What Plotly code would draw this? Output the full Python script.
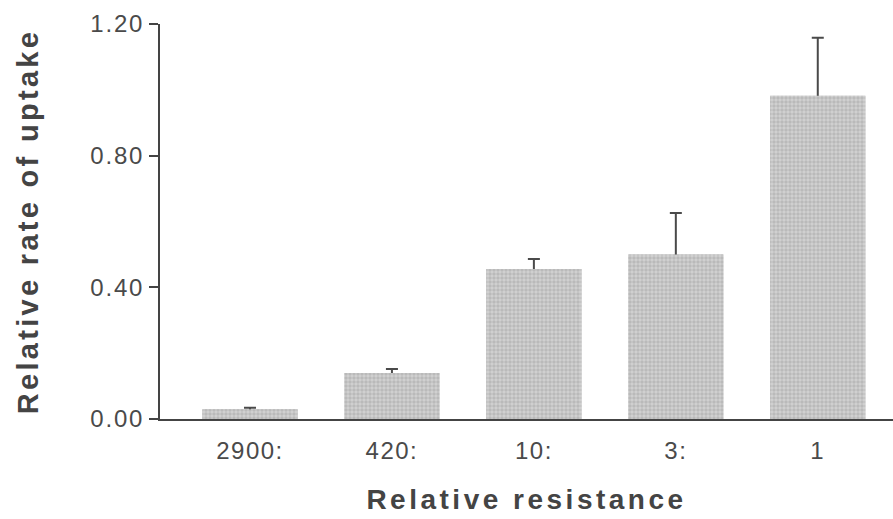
import plotly.graph_objects as go

categories = ["2900:", "420:", "10:", "3:", "1"]
uptake = [0.030, 0.140, 0.456, 0.500, 0.982]
error_up = [0.004, 0.012, 0.030, 0.126, 0.176]
y_ticks = [0.0, 0.4, 0.8, 1.2]
y_ticklabels = ["0.00", "0.40", "0.80", "1.20"]

axis_color = "#444444"
text_color = "#4a4a4a"
font_family = "Liberation Sans, Arial, Helvetica, sans-serif"


def spaced(txt, px):
    return f'<span style="letter-spacing:{px}px">{txt}</span>'


bar_marker = dict(
    color="#cccccc",
    line=dict(width=0),
    pattern=dict(shape=".", fgcolor="#a2a2a2", bgcolor="#d2d2d2", size=4, solidity=0.6),
)

fig = go.Figure()
# bars carrying the (upper) error bars
fig.add_trace(go.Bar(
    x=categories,
    y=uptake,
    marker=bar_marker,
    error_y=dict(
        type="data",
        symmetric=False,
        array=error_up,
        arrayminus=[0.006] * len(error_up),
        color="#4a4a4a",
        thickness=2,
        width=6,
    ),
    showlegend=False,
    hoverinfo="skip",
))
# same bars drawn on top so that only the upper whisker shows
fig.add_trace(go.Bar(
    x=categories,
    y=uptake,
    marker=bar_marker,
    showlegend=False,
))

fig.update_layout(
    width=893,
    height=519,
    margin=dict(l=160, r=0, t=24, b=100),
    paper_bgcolor="white",
    plot_bgcolor="white",
    barmode="overlay",
    bargap=0.33,
    font=dict(family=font_family, color=text_color),
    xaxis=dict(
        type="category",
        range=[-0.634, 4.53],
        tickvals=categories,
        ticktext=[spaced(c, 1.5) for c in categories],
        showline=True,
        linecolor=axis_color,
        linewidth=2,
        ticks="",
        showgrid=False,
        zeroline=False,
        tickfont=dict(size=24, color=text_color),
        ticklabelstandoff=9,
        title=dict(
            text=spaced("Relative resistance", 3.5),
            font=dict(size=28, color="#444444", weight="bold"),
            standoff=27,
        ),
    ),
    yaxis=dict(
        range=[0, 1.2],
        tickvals=y_ticks,
        ticktext=[spaced(t, 1.8) for t in y_ticklabels],
        showline=True,
        linecolor=axis_color,
        linewidth=2,
        ticks="outside",
        ticklen=9,
        tickwidth=2,
        tickcolor=axis_color,
        showgrid=False,
        zeroline=False,
        tickfont=dict(size=24, color=text_color),
        title=dict(
            text=spaced("Relative rate of uptake", 3.3),
            font=dict(size=29, color="#444444", weight="bold"),
            standoff=43,
        ),
    ),
)

fig.write_html("out.html")
